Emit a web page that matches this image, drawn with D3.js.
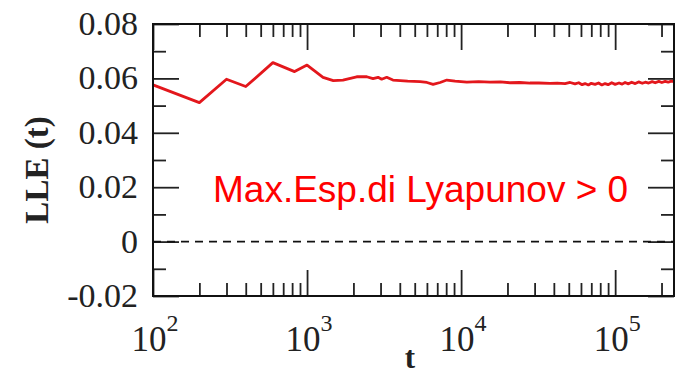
<!DOCTYPE html>
<html>
<head>
<meta charset="utf-8">
<script src="https://cdn.jsdelivr.net/npm/d3@7"></script>
<style>
  html, body { margin: 0; padding: 0; background: #fff; }
  svg { display: block; }
</style>
</head>
<body>
<svg id="chart" width="681" height="376"></svg>
<script>
// ---- data ----
const tValues = [100, 200, 300, 400, 600, 830, 1000, 1270, 1480, 1710, 2100, 2440, 2680, 2890, 3050, 3290, 3610, 4500, 5420, 6000, 6580, 7310, 8080, 9140, 10900, 13000, 15400, 18000, 20800, 24000, 28000, 32000, 37800, 42000, 47300, 51000, 54900, 58000, 61000, 63800, 67000, 70000, 74100, 78000, 82000, 86000, 90000, 95000, 100000, 106000, 111000, 116000, 122000, 128000, 135000, 142000, 150000, 157000, 165000, 174000, 182000, 192000, 201000, 211000, 221000, 231000, 241000];
const lleValues = [0.0576, 0.0511, 0.0597, 0.0570, 0.0658, 0.0625, 0.0649, 0.0604, 0.0592, 0.0594, 0.0606, 0.0606, 0.0599, 0.0604, 0.0597, 0.0604, 0.0594, 0.0590, 0.0588, 0.0585, 0.0578, 0.0585, 0.0594, 0.0590, 0.0586, 0.0588, 0.0586, 0.0587, 0.0584, 0.0585, 0.0583, 0.0583, 0.0582, 0.0583, 0.0581, 0.0585, 0.0580, 0.0584, 0.0577, 0.0581, 0.0576, 0.0582, 0.0578, 0.0583, 0.0576, 0.0581, 0.0577, 0.0584, 0.0578, 0.0583, 0.0579, 0.0585, 0.0580, 0.0586, 0.0581, 0.0587, 0.0582, 0.0586, 0.0583, 0.0588, 0.0584, 0.0589, 0.0585, 0.0589, 0.0586, 0.0590, 0.0588];
const xDomain = [100, 241000];
const yDomain = [-0.02, 0.08];
const xMajorTicks = [1e2, 1e3, 1e4, 1e5];
const xTickExponents = ["2", "3", "4", "5"];
const yMajorTicks = [-0.02, 0, 0.02, 0.04, 0.06, 0.08];
const yTickLabels = ["-0.02", "0", "0.02", "0.04", "0.06", "0.08"];
const yMinorTicks = [-0.01, 0.01, 0.03, 0.05, 0.07];
const xLabel = "t";
const yLabel = "LLE (t)";
const annotation = "Max.Esp.di Lyapunov > 0";

// ---- layout ----
const L = 153, R = 674, T = 24, B = 296;
const svg = d3.select("#chart");
const x = d3.scaleLog().domain(xDomain).range([L, R]);
const y = d3.scaleLinear().domain(yDomain).range([B, T]);

const xMinorTicks = x.ticks().filter(v => !xMajorTicks.includes(v));
const tickColor = "#222";
const majorLen = 26, minorLen = 13;

function styleAxis(g) {
  g.select(".domain").remove();
  g.selectAll(".tick line").attr("stroke", tickColor).attr("stroke-width", 1.8);
  g.selectAll(".tick text").remove();
}

// x axes (bottom & top), ticks inward
svg.append("g").attr("transform", `translate(0,${B})`)
  .call(d3.axisBottom(x).tickValues(xMajorTicks).tickSize(-majorLen).tickFormat(() => "")).call(styleAxis);
svg.append("g").attr("transform", `translate(0,${B})`)
  .call(d3.axisBottom(x).tickValues(xMinorTicks).tickSize(-minorLen).tickFormat(() => "")).call(styleAxis);
svg.append("g").attr("transform", `translate(0,${T})`)
  .call(d3.axisTop(x).tickValues(xMajorTicks).tickSize(-majorLen).tickFormat(() => "")).call(styleAxis);
svg.append("g").attr("transform", `translate(0,${T})`)
  .call(d3.axisTop(x).tickValues(xMinorTicks).tickSize(-minorLen).tickFormat(() => "")).call(styleAxis);

// y axes (left & right), ticks inward
svg.append("g").attr("transform", `translate(${L},0)`)
  .call(d3.axisLeft(y).tickValues(yMajorTicks).tickSize(-majorLen).tickFormat(() => "")).call(styleAxis);
svg.append("g").attr("transform", `translate(${L},0)`)
  .call(d3.axisLeft(y).tickValues(yMinorTicks).tickSize(-minorLen).tickFormat(() => "")).call(styleAxis);
svg.append("g").attr("transform", `translate(${R},0)`)
  .call(d3.axisRight(y).tickValues(yMajorTicks).tickSize(-majorLen).tickFormat(() => "")).call(styleAxis);
svg.append("g").attr("transform", `translate(${R},0)`)
  .call(d3.axisRight(y).tickValues(yMinorTicks).tickSize(-minorLen).tickFormat(() => "")).call(styleAxis);

// zero dashed line
svg.append("line")
  .attr("x1", L).attr("x2", R).attr("y1", y(0)).attr("y2", y(0))
  .attr("stroke", "#111").attr("stroke-width", 1.6).attr("stroke-dasharray", "8,6");

// data line
const pts = tValues.map((t, i) => [t, lleValues[i]]);
svg.append("path")
  .datum(pts)
  .attr("fill", "none")
  .attr("stroke", "#e3171c")
  .attr("stroke-width", 2.8)
  .attr("stroke-linejoin", "round")
  .attr("d", d3.line().x(d => x(d[0])).y(d => y(d[1])));

// frame
svg.append("rect")
  .attr("x", L).attr("y", T).attr("width", R - L).attr("height", B - T)
  .attr("fill", "none").attr("stroke", "#111").attr("stroke-width", 2);

// y tick labels
const serif = "'Liberation Serif', 'Times New Roman', serif";
svg.append("g").selectAll("text").data(yMajorTicks).join("text")
  .attr("x", 138).attr("y", d => y(d) + 11)
  .attr("text-anchor", "end")
  .attr("font-family", serif).attr("font-size", 34).attr("fill", "#222")
  .text((d, i) => yTickLabels[i]);

// x tick labels with superscripts
const xl = svg.append("g").selectAll("text").data(xMajorTicks).join("text")
  .attr("x", d => x(d) + 2).attr("y", 351)
  .attr("text-anchor", "middle")
  .attr("font-family", serif).attr("font-size", 35).attr("fill", "#222");
xl.append("tspan").text("10");
xl.append("tspan").attr("dy", -20).attr("font-size", 24).text((d, i) => xTickExponents[i]);

// axis titles
svg.append("text")
  .attr("x", 410).attr("y", 368).attr("text-anchor", "middle")
  .attr("font-family", serif).attr("font-weight", "bold").attr("font-size", 31).attr("fill", "#222")
  .text(xLabel);
svg.append("text")
  .attr("transform", "translate(48,170) rotate(-90)").attr("text-anchor", "middle")
  .attr("font-family", serif).attr("font-weight", "bold").attr("font-size", 33).attr("fill", "#222")
  .text(yLabel);

// annotation
svg.append("text")
  .attr("x", 213).attr("y", 202)
  .attr("font-family", "'Liberation Sans', Arial, sans-serif").attr("font-size", 37).attr("fill", "#ff0000")
  .text(annotation);
</script>
</body>
</html>
